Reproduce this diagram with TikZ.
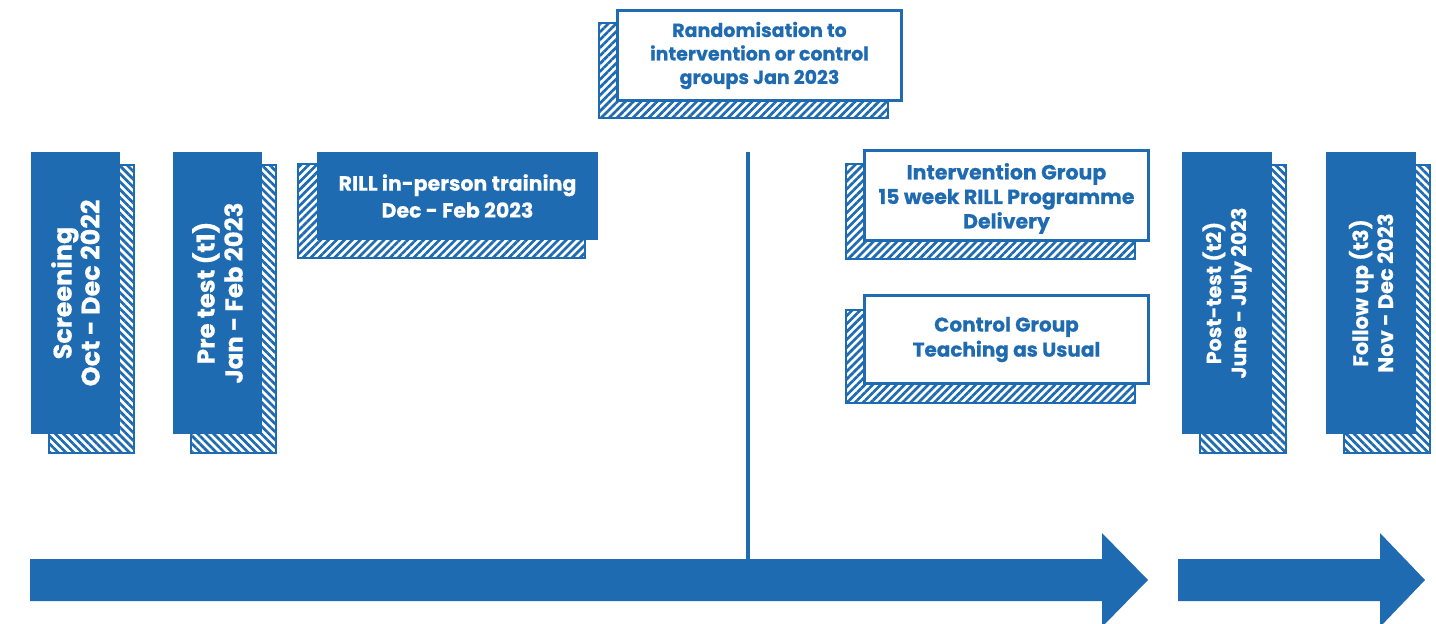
\documentclass[tikz,border=0pt]{standalone}
\usepackage{fontspec}
\setmainfont{Poppins}[BoldFeatures={FakeBold=0.5}]
\usetikzlibrary{patterns.meta,calc}
\definecolor{rillblue}{RGB}{31,107,178}
\pgfdeclarelayer{shadow}
\pgfsetlayers{shadow,main}

\tikzset{
  solidbox/.style={fill=rillblue, text=white, align=center, inner sep=0pt},
  openbox/.style={fill=white, draw=rillblue, line width=3pt, text=rillblue, align=center, inner sep=0pt},
  boxlabel/.style={text=rillblue, align=center, inner sep=0pt},
  hatchdown/.style={draw=rillblue, line width=2pt,
    pattern={Lines[angle=-45,distance=5.6pt,line width=2.7pt]}, pattern color=rillblue},
  hatchup/.style={draw=rillblue, line width=2pt,
    pattern={Lines[angle=45,distance=5.6pt,line width=2.7pt]}, pattern color=rillblue},
  timeline/.style={fill=rillblue, draw=none},
}
\newcommand\sizedbold[2]{\bfseries\fontsize{#1}{#2}\selectfont}

% hatched offset shadow behind a box: style, node, dx, dy, growth
\newcommand\hatchshadow[5]{%
  \begin{pgfonlayer}{shadow}
    \path[#1] ($(#2.south west)+(#3,#4)+(-#5,#5)$) rectangle ($(#2.north east)+(#3,#4)+(#5,-#5)$);
  \end{pgfonlayer}}

\begin{document}
\begin{tikzpicture}[x=1pt,y=-1pt]
\useasboundingbox (0,0) rectangle (1436,624);

% timeline arrows
\fill[timeline] (30,559) -- (1102,559) -- (1102,533) -- (1148,580) -- (1102,627) -- (1102,601) -- (30,601) -- cycle;
\fill[timeline] (1178,559) -- (1380,559) -- (1380,533) -- (1425,580) -- (1380,627) -- (1380,601) -- (1178,601) -- cycle;

% randomisation divider
\coordinate (divtop) at (748,152);
\coordinate (divbot) at (748,560);
\draw[rillblue, line width=4pt] (divtop) -- (divbot);

% measurement boxes (vertical text)
\node[solidbox, font=\sizedbold{25.5}{28}, rotate=90, minimum width=282, minimum height=89] (screen) at (75.5,293) {Screening\\Oct - Dec 2022};
\node[solidbox, font=\sizedbold{24.5}{28}, rotate=90, minimum width=282, minimum height=89] (pretest) at (217.5,293) {Pre test (t1)\\Jan - Feb 2023};
\node[solidbox, font=\sizedbold{20.5}{25}, rotate=90, minimum width=282, minimum height=90] (posttest) at (1227,293) {Post-test (t2)\\June - July 2023};
\node[solidbox, font=\sizedbold{21}{25}, rotate=90, minimum width=282, minimum height=90] (followup) at (1371,293) {Follow up (t3)\\Nov - Dec 2023};

\hatchshadow{hatchdown}{screen}{16}{16}{2.5}
\hatchshadow{hatchdown}{pretest}{16}{16}{2.5}
\hatchshadow{hatchdown}{posttest}{16}{16}{2.5}
\hatchshadow{hatchdown}{followup}{16}{16}{2.5}

% training
\node[solidbox, font=\sizedbold{20.5}{27}, minimum width=281, minimum height=88] (training) at (457.5,196) {RILL in-person training\\Dec - Feb 2023};
\hatchshadow{hatchup}{training}{-16}{15}{3}

% randomisation and the two arms
\node[openbox, font=\sizedbold{19}{23.5}, minimum width=284, minimum height=90] (random) at (759.5,55.5) {Randomisation to\\intervention or control\\groups Jan 2023};
\hatchshadow{hatchup}{random}{-16}{15}{1}

\node[openbox, minimum width=284, minimum height=90] (interv) at (1006.5,195.5) {};
\node[boxlabel, font=\sizedbold{20.5}{24.5}] (intervtext) at ($(interv.center)+(0,3)$) {Intervention Group\\15 week RILL Programme\\Delivery};
\hatchshadow{hatchup}{interv}{-16}{16}{1}

\node[openbox, font=\sizedbold{20}{25}, minimum width=284, minimum height=88] (control) at (1006.5,339.5) {Control Group\\Teaching as Usual};
\hatchshadow{hatchup}{control}{-16}{17}{1}
\end{tikzpicture}
\end{document}
